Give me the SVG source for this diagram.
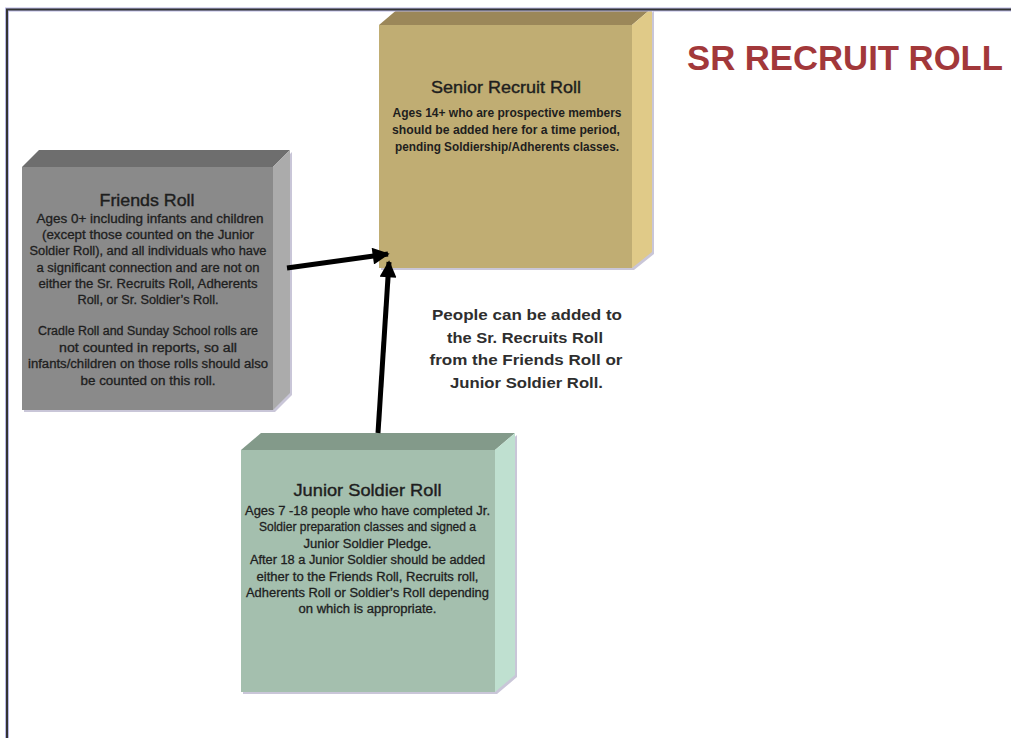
<svg xmlns="http://www.w3.org/2000/svg" width="1011" height="738" viewBox="0 0 1011 738">
  <style>
    .t { font-family: "Liberation Sans", Arial, sans-serif; text-anchor: middle; fill: #1e1e1e; stroke: #1e1e1e; stroke-width: 0.3px; }
    .head { font-size: 17px; stroke-width: 0.4px; }
    .body { font-size: 12px; }
    .bold { font-weight: bold; stroke-width: 0; }
    .note { font-family: "Liberation Sans", Arial, sans-serif; font-size: 15.5px; font-weight: bold; fill: #2e2e2e; text-anchor: middle; }
    .title { font-family: "Liberation Sans", Arial, sans-serif; font-size: 35px; font-weight: bold; fill: #a2383a; }
    .shadow { fill: #c9c6d8; }
    .link { stroke: #000; stroke-width: 5; fill: none; marker-end: url(#head); }
  </style>
  <defs>
    <marker id="head" viewBox="0 0 10 10" refX="9" refY="5" markerWidth="3.6" markerHeight="3.4" orient="auto" markerUnits="strokeWidth">
      <path d="M0,0 L10,5 L0,10 Z" fill="#000"/>
    </marker>
  </defs>

  <rect width="1011" height="738" fill="#fff"/>

  <!-- Senior Recruit Roll block -->
  <g id="senior">
    <polygon class="shadow" points="381,27 634,27 654,11 654,254 634,270 381,270"/>
    <polygon points="379,25 399,8 652,8 632,25" fill="#9b8759"/>
    <polygon points="632,25 652,8 652,252 632,268" fill="#e0ca88"/>
    <rect x="379" y="25" width="253" height="243" fill="#c0ad73"/>
    <text class="t head" x="506" y="93" textLength="150" lengthAdjust="spacingAndGlyphs">Senior Recruit Roll</text>
    <text class="t body bold" font-size="11" x="507" y="117" textLength="229" lengthAdjust="spacingAndGlyphs">Ages 14+ who are prospective members</text>
    <text class="t body bold" x="506" y="134" textLength="228" lengthAdjust="spacingAndGlyphs">should be added here for a time period,</text>
    <text class="t body bold" x="507" y="151" textLength="224" lengthAdjust="spacingAndGlyphs">pending Soldiership/Adherents classes.</text>
  </g>

  <!-- Page frame -->
  <g id="frame">
    <path d="M7,738 V9.5 H1011" fill="none" stroke="#b9b8e4" stroke-width="4"/>
    <path d="M7,738 V9.5 H1011" fill="none" stroke="#333" stroke-width="2"/>
  </g>

  <!-- Friends Roll block -->
  <g id="friends">
    <polygon class="shadow" points="24,169 275,169 292,152 292,395 275,412 24,412"/>
    <polygon points="22,167 39,150 290,150 273,167" fill="#6e6e6e"/>
    <polygon points="273,167 290,150 290,393 273,410" fill="#ababab"/>
    <rect x="22" y="167" width="251" height="243" fill="#8a8a8a"/>
    <text class="t head" x="147" y="206" textLength="95" lengthAdjust="spacingAndGlyphs">Friends Roll</text>
    <text class="t body" x="150" y="223" textLength="227" lengthAdjust="spacingAndGlyphs">Ages 0+ including infants and children</text>
    <text class="t body" x="148" y="239.2" textLength="212" lengthAdjust="spacingAndGlyphs">(except those counted on the  Junior</text>
    <text class="t body" x="148" y="255.4" textLength="237" lengthAdjust="spacingAndGlyphs">Soldier Roll), and all individuals who have</text>
    <text class="t body" x="148" y="271.6" textLength="223" lengthAdjust="spacingAndGlyphs">a significant connection and are not on</text>
    <text class="t body" x="148" y="287.8" textLength="219" lengthAdjust="spacingAndGlyphs">either the Sr. Recruits Roll,  Adherents</text>
    <text class="t body" x="148" y="304" textLength="141" lengthAdjust="spacingAndGlyphs">Roll, or Sr. Soldier’s Roll.</text>
    <text class="t body" x="148" y="335" textLength="220" lengthAdjust="spacingAndGlyphs">Cradle Roll and Sunday School rolls are</text>
    <text class="t body" x="148" y="351.7" textLength="178" lengthAdjust="spacingAndGlyphs">not counted in reports, so all</text>
    <text class="t body" x="148" y="368.3" textLength="240" lengthAdjust="spacingAndGlyphs">infants/children on those rolls should also</text>
    <text class="t body" x="148" y="385" textLength="135" lengthAdjust="spacingAndGlyphs">be counted on this roll.</text>
  </g>

  <!-- Junior Soldier Roll block -->
  <g id="junior">
    <polygon class="shadow" points="243,452 497,452 517,435 517,677 497,694 243,694"/>
    <polygon points="241,450 261,433 515,433 495,450" fill="#839a8a"/>
    <polygon points="495,450 515,433 515,675 495,692" fill="#bfe0d0"/>
    <rect x="241" y="450" width="254" height="242" fill="#a4bfae"/>
    <text class="t head" font-size="16" x="367.5" y="496" textLength="148" lengthAdjust="spacingAndGlyphs">Junior Soldier Roll</text>
    <text class="t body" x="367.5" y="515" textLength="245" lengthAdjust="spacingAndGlyphs">Ages 7 -18 people who have  completed Jr.</text>
    <text class="t body" x="367.5" y="531.4" textLength="217" lengthAdjust="spacingAndGlyphs">Soldier preparation classes and signed a</text>
    <text class="t body" x="367.5" y="547.8" textLength="128" lengthAdjust="spacingAndGlyphs">Junior  Soldier Pledge.</text>
    <text class="t body" x="367.5" y="564.2" textLength="235" lengthAdjust="spacingAndGlyphs">After 18 a Junior Soldier should be added</text>
    <text class="t body" x="367.5" y="580.6" textLength="222" lengthAdjust="spacingAndGlyphs">either to the Friends Roll, Recruits roll,</text>
    <text class="t body" x="367.5" y="597" textLength="243" lengthAdjust="spacingAndGlyphs">Adherents Roll or  Soldier’s Roll depending</text>
    <text class="t body" x="367.5" y="613.4" textLength="138" lengthAdjust="spacingAndGlyphs">on which is appropriate.</text>
  </g>

  <!-- Connectors -->
  <g id="connectors">
    <line class="link" x1="287" y1="268" x2="388" y2="254"/>
    <line class="link" x1="378" y1="433" x2="389" y2="262"/>
  </g>

  <!-- Free text -->
  <g id="caption">
    <text class="note" x="527" y="320" textLength="190" lengthAdjust="spacingAndGlyphs">People can be added to</text>
    <text class="note" x="525" y="342.5" textLength="156" lengthAdjust="spacingAndGlyphs">the Sr. Recruits Roll</text>
    <text class="note" x="526" y="365" textLength="193" lengthAdjust="spacingAndGlyphs">from the Friends Roll or</text>
    <text class="note" x="526.5" y="387.5" textLength="153" lengthAdjust="spacingAndGlyphs">Junior Soldier Roll.</text>
  </g>

  <g id="heading">
    <text class="title" x="687" y="70" textLength="316" lengthAdjust="spacingAndGlyphs">SR RECRUIT ROLL</text>
  </g>
</svg>
